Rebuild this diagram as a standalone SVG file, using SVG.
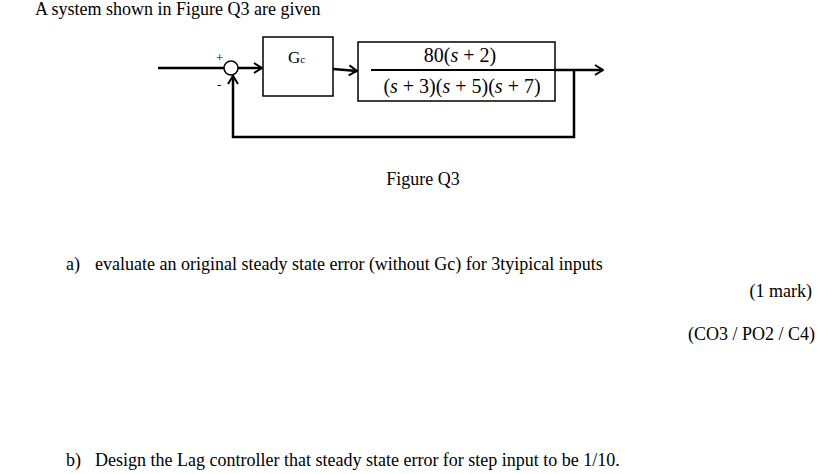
<svg xmlns="http://www.w3.org/2000/svg" width="840" height="474" viewBox="0 0 840 474">
<style>
text{font-family:"Liberation Serif",serif;fill:#000}
.t{font-size:18px}
.ln{stroke:#000;stroke-width:2.5;fill:none}
.bx{stroke:#000;stroke-width:1.5;fill:#fff}
</style>
<defs><marker id="a" markerWidth="10" markerHeight="12" refX="9" refY="6" orient="auto" markerUnits="userSpaceOnUse"><path d="M1,1 L9,6 L1,11" fill="none" stroke="#000" stroke-width="2"/></marker></defs>
<rect width="840" height="474" fill="#fff"/>
<text class="t" x="35" y="15">A system shown in Figure Q3 are given</text>
<g id="connectors">
<line class="ln" x1="158" y1="68" x2="224" y2="68"/>
<line class="ln" x1="238" y1="68" x2="262" y2="68" marker-end="url(#a)"/>
<line class="ln" x1="333" y1="69" x2="357" y2="71" marker-end="url(#a)"/>
<line class="ln" x1="555" y1="70" x2="603" y2="70" marker-end="url(#a)"/>
<polyline class="ln" points="574,70 574,137 233,137 233,76" marker-end="url(#a)"/>
</g>
<g id="sum"><circle cx="231" cy="68" r="7" fill="#fff" stroke="#000" stroke-width="1.5"/>
<text x="216" y="62" font-size="13">+</text><text x="217" y="89" font-size="13">-</text></g>
<g id="gc"><rect class="bx" x="263" y="37" width="70" height="59"/>
<text x="288" y="63" font-size="17">G<tspan font-size="11">c</tspan></text></g>
<g id="plant"><rect class="bx" x="358" y="42" width="197" height="59"/>
<line x1="371" y1="70" x2="555" y2="70" stroke="#000" stroke-width="2"/>
<text x="460" y="62" font-size="20" text-anchor="middle">80(<tspan font-style="italic">s</tspan> + 2)</text>
<text x="462" y="93" font-size="20" text-anchor="middle">(<tspan font-style="italic">s</tspan> + 3)(<tspan font-style="italic">s</tspan> + 5)(<tspan font-style="italic">s</tspan> + 7)</text></g>
<text class="t" x="423" y="185" text-anchor="middle">Figure Q3</text>
<text class="t" x="66" y="270">a)</text>
<text class="t" x="95" y="270">evaluate an original steady state error (without Gc) for 3tyipical inputs</text>
<text class="t" x="812" y="297" text-anchor="end">(1 mark)</text>
<text class="t" x="815" y="340" text-anchor="end">(CO3 / PO2 / C4)</text>
<text class="t" x="66" y="466">b)</text>
<text class="t" x="95" y="466">Design the Lag controller that steady state error for step input to be 1/10.</text>
</svg>
